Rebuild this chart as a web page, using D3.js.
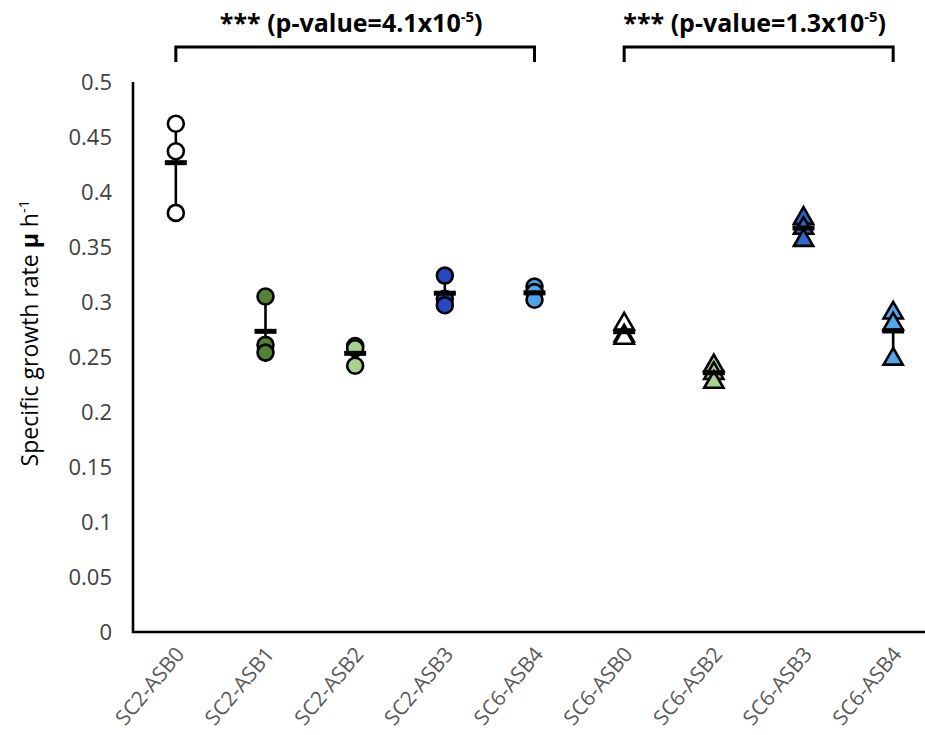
<!DOCTYPE html>
<html>
<head>
<meta charset="utf-8">
<script src="https://cdn.jsdelivr.net/npm/d3@7"></script>
<style>
  html, body { margin: 0; padding: 0; background: #fff; }
  svg { display: block; }
</style>
</head>
<body>
<svg id="chart" width="925" height="735"></svg>
<script>
// Strains on the x axis (names repeat, so positions are keyed by index)
const categories = ["SC2-ASB0", "SC2-ASB1", "SC2-ASB2", "SC2-ASB3", "SC6-ASB4",
                    "SC6-ASB0", "SC6-ASB2", "SC6-ASB3", "SC6-ASB4"];
// Three biological replicates of the specific growth rate (h^-1)
const rep1 = [0.462, 0.305, 0.260, 0.324, 0.314, 0.281, 0.243, 0.377, 0.291];
const rep2 = [0.437, 0.261, 0.258, 0.303, 0.309, 0.270, 0.236, 0.368, 0.281];
const rep3 = [0.381, 0.254, 0.242, 0.297, 0.302, 0.268, 0.228, 0.357, 0.249];
const shapes = ["circle", "circle", "circle", "circle", "circle",
                "triangle", "triangle", "triangle", "triangle"];
const fills = ["#ffffff", "#548235", "#a9d18e", "#2649c2", "#4fa3e8",
               "#ffffff", "#a9d18e", "#2f68cc", "#55a6e8"];
const yTicks = [0, 0.05, 0.1, 0.15, 0.2, 0.25, 0.3, 0.35, 0.4, 0.45, 0.5];
// Significance brackets (category indices) and their p-values
const bracketFrom = [0, 5];
const bracketTo = [4, 8];
const pMantissa = ["4.1", "1.3"];
const pExponent = ["-5", "-5"];

const svg = d3.select("#chart");
const margin = { left: 133, top: 82, bottom: 632 };
const font = "'Open Sans', Lato, sans-serif";

const x = d3.scaleBand().domain(d3.range(categories.length)).range([131, 938]);
const cx = i => x(i) + x.bandwidth() / 2;
const y = d3.scaleLinear().domain([0, 0.5]).range([margin.bottom, margin.top]);

// Y axis
const yAxis = svg.append("g")
  .attr("transform", `translate(${margin.left},0)`)
  .call(d3.axisLeft(y).tickValues(yTicks).tickSize(0).tickPadding(21)
    .tickFormat(d => d3.format("")(+d.toFixed(2))));
yAxis.select(".domain").remove();
yAxis.selectAll("text")
  .attr("font-family", font).attr("font-size", 22).attr("fill", "#404040");

// X axis: band-scale ticks, each label in its own slanted group
const xAxis = svg.append("g")
  .attr("transform", `translate(0,${margin.bottom})`)
  .call(d3.axisBottom(x).tickSize(0).tickFormat(""));
xAxis.select(".domain").remove();
xAxis.selectAll(".tick").each(function (i) {
  d3.select(this).append("g")
    .attr("transform", "translate(4,18) rotate(-50)")
    .append("text")
    .attr("x", 0).attr("y", 0).attr("dy", "0.35em")
    .attr("text-anchor", "end")
    .attr("font-family", font).attr("font-size", 21).attr("fill", "#595959")
    .text(categories[i]);
});

// Axis lines
svg.append("path")
  .attr("d", `M${margin.left},${margin.top}V${margin.bottom}H925`)
  .attr("fill", "none").attr("stroke", "#000").attr("stroke-width", 2.6);

// Y axis title
const title = svg.append("text")
  .attr("transform", "translate(38,333) rotate(-90)")
  .attr("text-anchor", "middle")
  .attr("font-family", font).attr("font-size", 23).attr("fill", "#000");
title.append("tspan").text("Specific growth rate ");
title.append("tspan").attr("font-weight", "bold").text("μ");
title.append("tspan").text(" h");
title.append("tspan").attr("font-size", 15).attr("dy", -9).text("-1");

// Summary per strain
const groups = categories.map((c, i) => {
  const vals = [rep1[i], rep2[i], rep3[i]];
  return { i, vals, mean: d3.mean(vals), sd: d3.deviation(vals) };
});

const plot = svg.append("g");

// Error bars (mean ± SD)
plot.selectAll("line.err").data(groups).join("line")
  .attr("class", "err")
  .attr("x1", d => cx(d.i)).attr("x2", d => cx(d.i))
  .attr("y1", d => y(d.mean + d.sd)).attr("y2", d => y(d.mean - d.sd))
  .attr("stroke", "#000").attr("stroke-width", 2.6);

// Replicate markers
const circleSym = d3.symbol().type(d3.symbolCircle).size(200);
const triSym = d3.symbol().type(d3.symbolTriangle).size(160);
const points = groups.flatMap(g => g.vals.map((v, k) => ({ i: g.i, v, k })));
plot.selectAll("path.pt").data(points).join("path")
  .attr("class", "pt")
  .attr("d", d => (shapes[d.i] === "circle" ? circleSym : triSym)())
  .attr("transform", d => `translate(${cx(d.i)},${y(d.v) + (shapes[d.i] === "triangle" ? 1 : 0)})`)
  .attr("fill", d => fills[d.i])
  .attr("stroke", "#000").attr("stroke-width", 2.6);

// Mean dash
plot.selectAll("rect.mean").data(groups).join("rect")
  .attr("class", "mean")
  .attr("x", d => cx(d.i) - 11).attr("width", 22)
  .attr("y", d => y(d.mean) - 2.5).attr("height", 5)
  .attr("fill", "#000");

// Significance brackets
const bracketY = 47, bracketDrop = 15;
bracketFrom.forEach((f, k) => {
  const x1 = cx(f), x2 = cx(bracketTo[k]);
  svg.append("path")
    .attr("d", `M${x1},${bracketY + bracketDrop}V${bracketY}H${x2}V${bracketY + bracketDrop}`)
    .attr("fill", "none").attr("stroke", "#000").attr("stroke-width", 3);
  const t = svg.append("text")
    .attr("x", (x1 + x2) / 2 - 4).attr("y", 32)
    .attr("text-anchor", "middle")
    .attr("font-family", font).attr("font-size", 25).attr("font-weight", "bold")
    .attr("fill", "#000");
  t.append("tspan").text(`*** (p-value=${pMantissa[k]}x10`);
  t.append("tspan").attr("font-size", 15).attr("dy", -10).text(pExponent[k]);
  t.append("tspan").attr("dy", 10).text(")");
});
</script>
</body>
</html>
